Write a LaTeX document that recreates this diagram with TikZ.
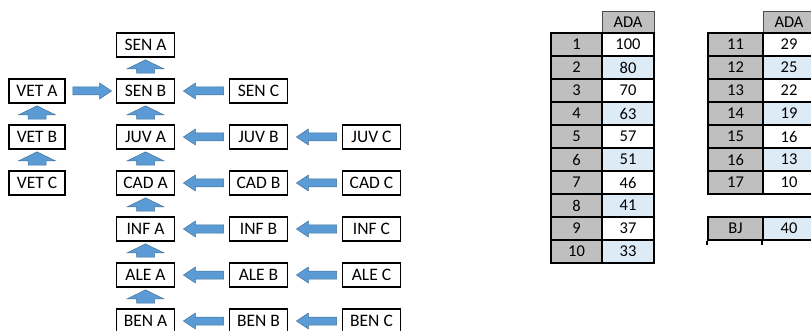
\documentclass[tikz,border=0pt]{standalone}
\usepackage{fontspec}
\setmainfont{Carlito}
\usetikzlibrary{calc}
\definecolor{arrowfill}{HTML}{5B9BD5}
\definecolor{arrowline}{HTML}{41719C}
\definecolor{cellgrey}{HTML}{BFBFBF}
\definecolor{cellblue}{HTML}{DDEBF7}
\tikzset{
  lbl/.style={draw=black, line width=1.8pt, fill=white, minimum width=58pt, minimum height=24pt, inner sep=0pt, font=\fontsize{17.5}{19}\selectfont},
  blockarrow/.style={fill=arrowfill, draw=arrowline, line width=0.5pt},
  cell/.style={draw=black, line width=1.7pt, minimum height=23pt, inner sep=0pt, font=\fontsize{16.5}{18}\selectfont},
  hdr/.style={draw=black!70, line width=0.8pt, fill=cellgrey, minimum height=22pt, inner sep=0pt, font=\fontsize{16.5}{18}\selectfont}
}
\newcommand\arrLeft[2]{% #1 source (right), #2 target (left)
  \path[blockarrow] let \p1=(#1.west), \p2=(#2.east) in
  ({\x1-5pt},{\y1+4pt}) -- ({\x2+20pt},{\y1+4pt}) -- ({\x2+20pt},{\y1+8pt}) -- ({\x2+8pt},\y1)
  -- ({\x2+20pt},{\y1-8pt}) -- ({\x2+20pt},{\y1-4pt}) -- ({\x1-5pt},{\y1-4pt}) -- cycle;}
\newcommand\arrRight[2]{% #1 source (left), #2 target (right)
  \path[blockarrow] let \p1=(#1.east), \p2=(#2.west) in
  ({\x1+7pt},{\y1+4pt}) -- ({\x2-16pt},{\y1+4pt}) -- ({\x2-16pt},{\y1+8pt}) -- ({\x2-4pt},\y1)
  -- ({\x2-16pt},{\y1-8pt}) -- ({\x2-16pt},{\y1-4pt}) -- ({\x1+7pt},{\y1-4pt}) -- cycle;}
\newcommand\arrUp[2]{% #1 source (below), #2 target (above)
  \path[blockarrow] let \p1=(#1.north), \p2=(#2.south) in
  ({\x1-9pt},{\y1+5pt}) -- ({\x1-9pt},{\y2-11pt}) -- ({\x1-18.5pt},{\y2-11pt}) -- (\x1,{\y2-2pt})
  -- ({\x1+18.5pt},{\y2-11pt}) -- ({\x1+9pt},{\y2-11pt}) -- ({\x1+9pt},{\y1+5pt}) -- cycle;}
\begin{document}
\begin{tikzpicture}[x=1pt,y=-1pt]
\useasboundingbox[fill=white] (0,0) rectangle (811,331);
% ---- label boxes
\node[lbl] (senA) at (145.5,45) {SEN A};
\node[lbl] (senB) at (145.5,91) {SEN B};
\node[lbl] (senC) at (258.5,91) {SEN C};
\node[lbl,minimum width=56pt] (vetA) at (37,91) {VET A};
\node[lbl,minimum width=56pt] (vetB) at (37,137) {VET B};
\node[lbl,minimum width=56pt] (vetC) at (37,183) {VET C};
\foreach \nm/\tx [count=\r] in {juv/JUV,cad/CAD,inf/INF,ale/ALE,ben/BEN}{
  \pgfmathsetmacro\yy{137+46*(\r-1)}
  \node[lbl] (\nm A) at (145.5,\yy) {\tx\ A};
  \node[lbl] (\nm B) at (258.5,\yy) {\tx\ B};
  \node[lbl] (\nm C) at (371.5,\yy) {\tx\ C};
}
% ---- arrows
\arrUp{senB}{senA}
\arrUp{juvA}{senB}
\arrUp{cadA}{juvA}
\arrUp{infA}{cadA}
\arrUp{aleA}{infA}
\arrUp{benA}{aleA}
\arrUp{vetB}{vetA}
\arrUp{vetC}{vetB}
\arrRight{vetA}{senB}
\arrLeft{senC}{senB}
\foreach \nm in {juv,cad,inf,ale,ben}{
  \arrLeft{\nm B}{\nm A}
  \arrLeft{\nm C}{\nm B}
}
% ---- table 1
\node[hdr,minimum width=52pt] (t1h) at (628,22) {ADA};
\foreach \v [count=\i] in {100,80,70,63,57,51,46,41,37,33}{
  \pgfmathsetmacro\yy{44.5+23*(\i-1)}
  \ifodd\i \def\cc{white}\else\def\cc{cellblue}\fi
  \node[cell,fill=cellgrey,minimum width=51pt] (t1n\i) at (576.5,\yy) {\i};
  \node[cell,fill=\cc,minimum width=52pt] (t1v\i) at (628,\yy) {\v};
}
% ---- table 2
\node[hdr,minimum width=52pt] (t2h) at (789,22) {ADA};
\foreach \v/\n [count=\i] in {29/11,25/12,22/13,19/14,16/15,13/16,10/17}{
  \pgfmathsetmacro\yy{44.5+23*(\i-1)}
  \ifodd\i \def\cc{white}\else\def\cc{cellblue}\fi
  \node[cell,fill=cellgrey,minimum width=55pt] (t2n\i) at (735.5,\yy) {\n};
  \node[cell,fill=\cc,minimum width=52pt] (t2v\i) at (789,\yy) {\v};
}
\node[cell,fill=cellgrey,minimum width=55pt] (bjn) at (735.5,228.5) {BJ};
\node[cell,fill=cellblue,minimum width=52pt] (bjv) at (789,228.5) {40};
\coordinate (s1) at ($(bjn.south west)+(0,-4pt)$);
\coordinate (s2) at ($(bjv.south west)+(0,-4pt)$);
\draw[line width=1.6pt] (bjn.south west) -- (s1);
\draw[line width=1.6pt] (bjv.south west) -- (s2);
\end{tikzpicture}
\end{document}
